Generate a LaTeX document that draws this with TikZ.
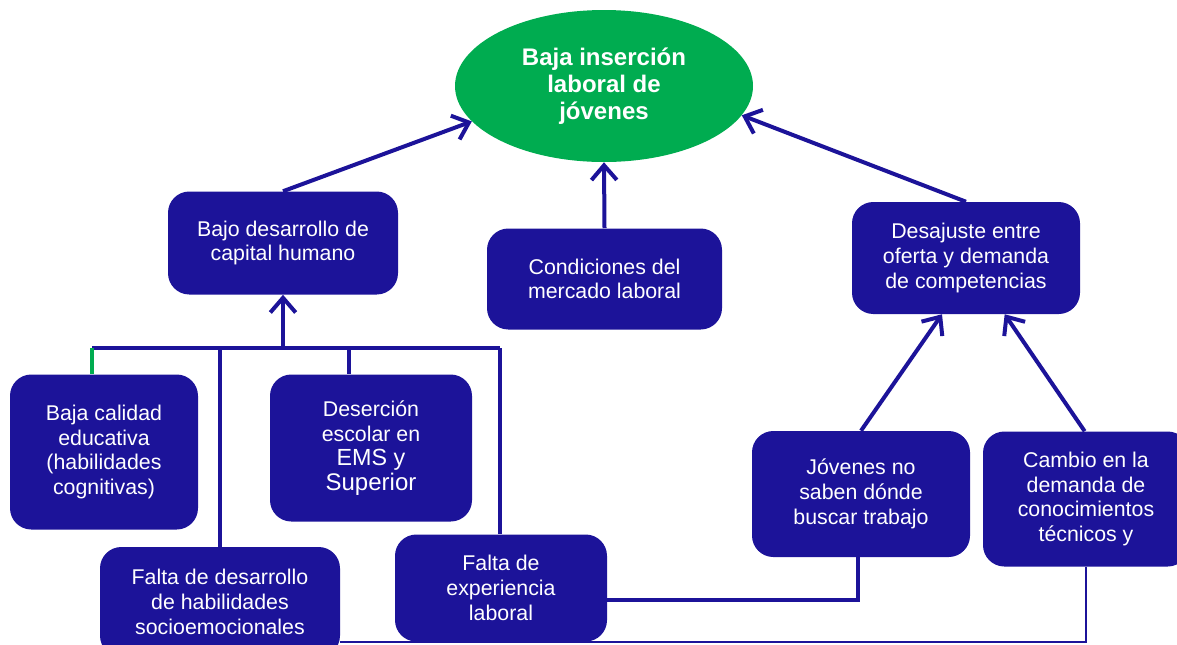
\documentclass[tikz,border=0pt]{standalone}
\usepackage{fontspec}
\setmainfont{Liberation Sans}
\usepackage{xcolor}
\usepackage{tikz}
\usetikzlibrary{positioning,shapes,arrows.meta}

\definecolor{causeblue}{RGB}{28,19,153}
\definecolor{goalgreen}{RGB}{0,172,80}

\begin{document}
\begin{tikzpicture}[x=0.75pt, y=-0.75pt,
    cause/.style={
        rectangle,
        fill=causeblue,
        draw=none,
        rounded corners=16pt,
        inner sep=0pt,
        text=white,
        align=center,
        font=\fontsize{16}{18.5}\selectfont
    },
    arrow/.style={-{Straight Barb[length=11pt,width=19pt]}, draw=causeblue, line width=3pt},
    link/.style={draw=causeblue, line width=2.6pt}]

    \useasboundingbox (0,0) rectangle (1177,644);

    % Central problem
    \node[ellipse, fill=goalgreen, minimum width=223.5pt, minimum height=114pt, inner sep=0pt,
          text=white, align=center, font=\bfseries\fontsize{18}{20.25}\selectfont]
          (problema) at (604,86) {Baja inserción\\laboral de\\jóvenes};

    % First level causes
    \node[cause, minimum width=172.5pt, minimum height=77.25pt] (capital) at (283,243) {Bajo desarrollo de\\capital humano};
    \node[cause, minimum width=176.25pt, minimum height=75.75pt] (mercado) at (604.5,279) {Condiciones del\\mercado laboral};
    \node[cause, minimum width=171pt, minimum height=84pt] (desajuste) at (966,258) {Desajuste entre\\oferta y demanda\\de competencias};

    % Second level causes
    \node[cause, minimum width=141pt, minimum height=116.25pt] (calidad) at (104,452) {Baja calidad\\educativa\\(habilidades\\cognitivas)};
    \node[cause, minimum width=151.5pt, minimum height=110.25pt] (desercion) at (371,448) {Deserción\\escolar en\\{\fontsize{17.5}{19}\selectfont EMS y}\\{\fontsize{18}{19}\selectfont Superior}};
    \node[cause, minimum width=180pt, minimum height=82.5pt] (habilidades) at (220,602) {Falta de desarrollo\\de habilidades\\socioemocionales};
    \node[cause, minimum width=159pt, minimum height=80.25pt] (experiencia) at (501,588) {Falta de\\experiencia\\laboral};
    \node[cause, minimum width=163.5pt, minimum height=94.5pt] (jovenes) at (861,494) {Jóvenes no\\saben dónde\\buscar trabajo};
    \node[cause, minimum width=154.5pt, minimum height=101.25pt] (cambio) at (1086,499) {Cambio en la\\demanda de\\conocimientos\\técnicos y};

    % Junction points
    \coordinate (busL) at (92,348);
    \coordinate (busR) at (500,348);
    \coordinate (busD) at (349,348);
    \coordinate (jJ) at (858,600);
    \coordinate (jC) at (1086,642);

    % Arrows to the problem
    \draw[arrow] (capital.north) -- (problema.195);
    \draw[arrow] (mercado.north) -- (problema.south);
    \draw[arrow] (desajuste.north) -- (problema.348);

    % Bus under capital humano
    \draw[link] (busL) -- (busR);
    \draw[arrow] (capital.south |- busL) -- (capital.south);
    \draw[draw=goalgreen, line width=2.6pt] (busL) -- (busL |- calidad.north);
    \draw[link] (habilidades.north |- busL) -- (habilidades.north);
    \draw[link] (busD) -- (busD |- desercion.north);
    \draw[link] (busR) -- (busR |- experiencia.north);

    % Arrows to desajuste
    \draw[arrow] (jovenes.north) -- ([xshift=-18pt]desajuste.south);
    \draw[arrow] ([xshift=-1pt]cambio.north) -- ([xshift=29pt]desajuste.south);

    % Lower links
    \draw[link] (experiencia.east |- jJ) -- (jJ) -- (jJ |- jovenes.south);
    \draw[draw=causeblue, line width=1.6pt] (habilidades.east |- jC) -- (jC) -- (cambio.south);
\end{tikzpicture}
\end{document}
